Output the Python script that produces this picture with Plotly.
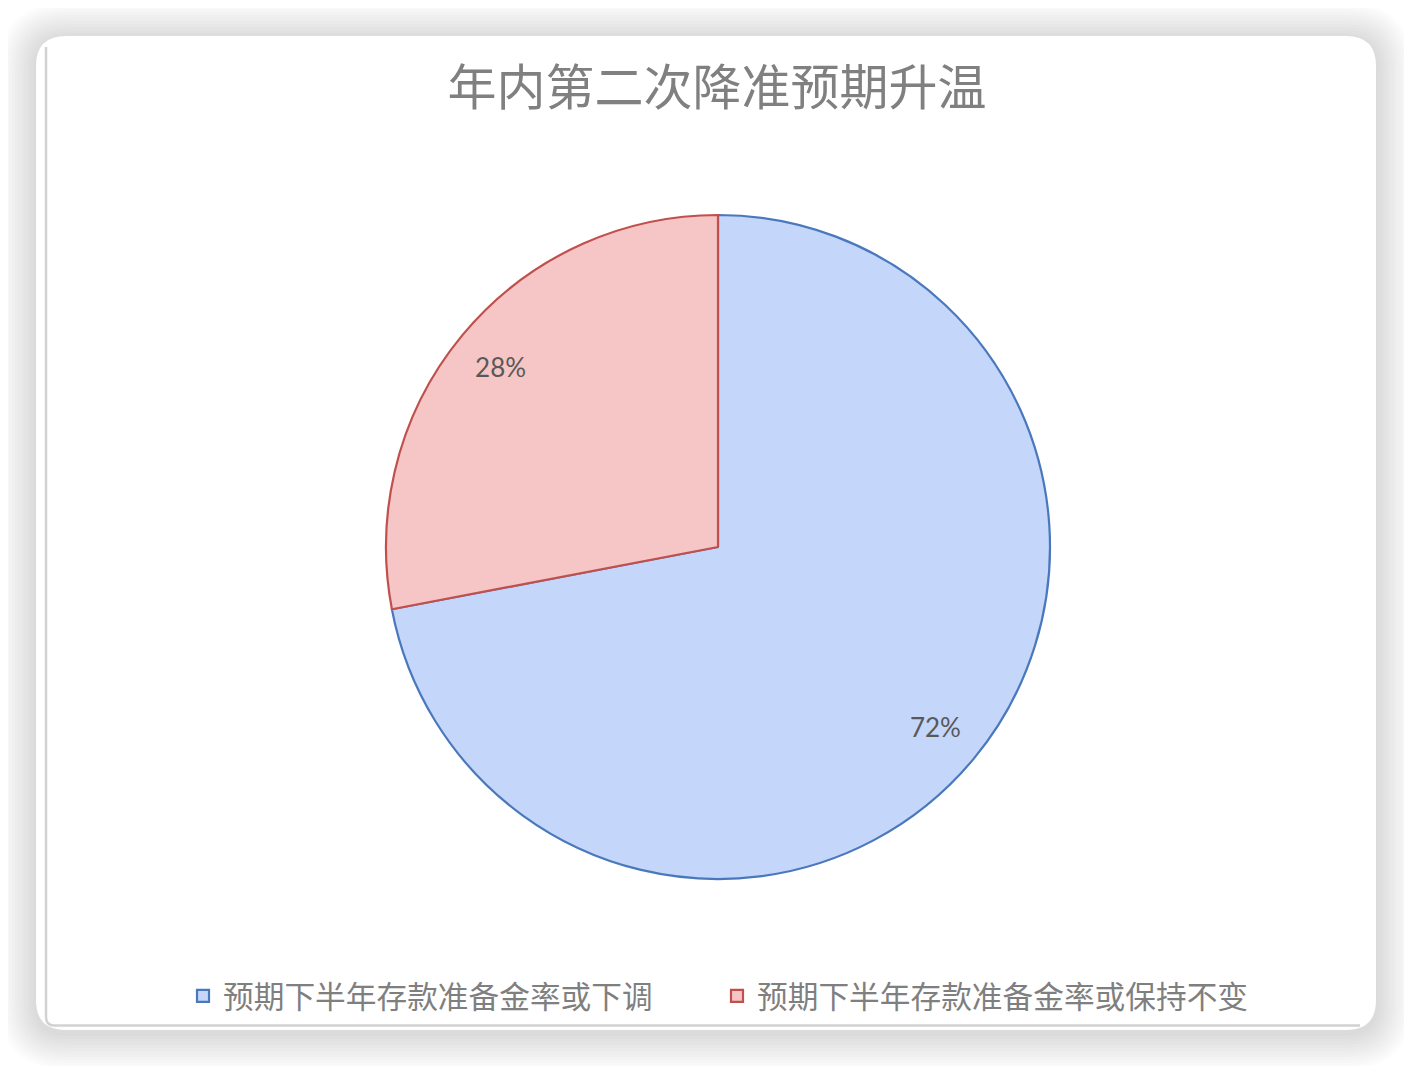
import plotly.graph_objects as go

W, H = 1412, 1066
OFF = 8  # page body margin of the html output

# chart data
labels = ["预期下半年存款准备金率或下调", "预期下半年存款准备金率或保持不变"]
values = [72, 28]
fill_colors = ["#c4d6f9", "#f5c6c5"]
line_colors = ["#4a78bc", "#c0504d"]
title_text = "年内第二次降准预期升温"


def px(x):
    return (x - OFF) / W


def py(y):
    return 1 - (y - OFF) / H


def rounded_rect(x0, y0, x1, y1, r):
    # rounded rectangle path in pixel units, converted to paper coords
    pts = [
        ("M", [(x0 + r, y0)]),
        ("L", [(x1 - r, y0)]),
        ("Q", [(x1, y0), (x1, y0 + r)]),
        ("L", [(x1, y1 - r)]),
        ("Q", [(x1, y1), (x1 - r, y1)]),
        ("L", [(x0 + r, y1)]),
        ("Q", [(x0, y1), (x0, y1 - r)]),
        ("L", [(x0, y0 + r)]),
        ("Q", [(x0, y0), (x0 + r, y0)]),
    ]
    out = ""
    for cmd, coords in pts:
        out += cmd + " ".join(f"{px(a):.5f},{py(b):.5f}" for a, b in coords) + " "
    return out + "Z"


shapes = []

# soft shadow around the card
for k in range(12, 0, -1):
    e = 3 * k
    shapes.append(dict(
        type="path", xref="paper", yref="paper", layer="below",
        path=rounded_rect(36 - e, 36 - e + 3, 1376 + e, 1030 + e + 3, 30 + e),
        fillcolor="rgba(0,0,0,0.012)", line=dict(width=0),
    ))

# white card
shapes.append(dict(
    type="path", xref="paper", yref="paper", layer="below",
    path=rounded_rect(36, 36, 1376, 1030, 30),
    fillcolor="white", line=dict(width=0),
))

# thin grey border on left and bottom of the inner chart area
shapes.append(dict(
    type="path", xref="paper", yref="paper", layer="below",
    path=(f"M{px(46):.5f},{py(47):.5f} L{px(46):.5f},{py(1017):.5f} "
          f"Q{px(46):.5f},{py(1025.5):.5f} {px(54):.5f},{py(1025.5):.5f} "
          f"L{px(1360):.5f},{py(1025.5):.5f}"),
    line=dict(color="#d2d2d2", width=2.5),
))

pie_domain = dict(x=[px(386), px(1050)], y=[py(879), py(215)])

fig = go.Figure()

# filled slices
fig.add_trace(go.Pie(
    labels=labels,
    values=values,
    sort=False,
    direction="clockwise",
    rotation=0,
    marker=dict(colors=fill_colors, line=dict(color=line_colors, width=2.2)),
    textinfo="none",
    domain=pie_domain,
    hoverinfo="label+percent",
))

# percentage labels, pushed towards the rim through a transparent ring
fig.add_trace(go.Pie(
    labels=labels,
    values=values,
    sort=False,
    direction="clockwise",
    rotation=0,
    hole=0.7,
    marker=dict(colors=["rgba(0,0,0,0)"] * len(values), line=dict(width=0)),
    textinfo="percent",
    textposition="inside",
    insidetextorientation="horizontal",
    textfont=dict(family="Lato", size=26, color="#595959"),
    domain=pie_domain,
    showlegend=False,
    hoverinfo="skip",
))

fig.update_layout(
    width=W,
    height=H,
    autosize=False,
    margin=dict(l=0, r=0, t=0, b=0),
    paper_bgcolor="white",
    plot_bgcolor="white",
    shapes=shapes,
    title=dict(
        text=title_text,
        x=px(717), xanchor="center",
        y=py(88), yanchor="middle",
        font=dict(family="Noto Sans CJK SC", size=49, color="#808080"),
    ),
    showlegend=True,
    legend=dict(
        orientation="h",
        x=px(717), xanchor="center",
        y=py(996), yanchor="middle",
        font=dict(family="Noto Sans CJK SC", size=30.7, color="#7f7f7f"),
        bgcolor="rgba(0,0,0,0)",
        traceorder="normal",
        entrywidth=489,
    ),
)

fig.write_html("out.html")
